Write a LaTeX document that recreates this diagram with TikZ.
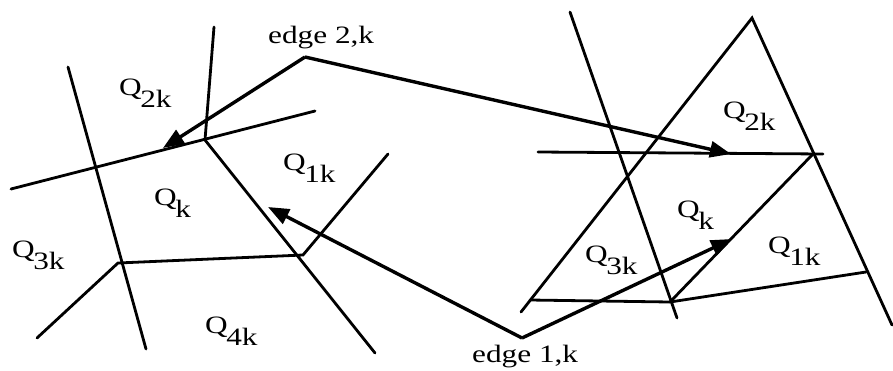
\documentclass[tikz,border=0pt]{standalone}
\usepackage{fontspec}
\newfontfamily\figfont[FakeStretch=1.25]{Liberation Serif}
\usetikzlibrary{arrows.meta}

\newcommand{\Qlab}[1]{Q\kern-0.06em\raisebox{-0.5em}{#1}}

\begin{document}
\begin{tikzpicture}[
    x=1pt, y=-1pt,
    meshline/.style={line width=2.8pt, line cap=round},
    edgeline/.style={line width=3.4pt, line join=miter},
    edgearrow/.style={edgeline, -{Triangle[length=21pt, width=16pt]}},
    qlabel/.style={anchor=base west, inner sep=0pt, font=\figfont\fontsize{25pt}{25pt}\selectfont},
    elabel/.style={anchor=base west, inner sep=0pt, font=\figfont\fontsize{25pt}{25pt}\selectfont}
]
\useasboundingbox (0,0) rectangle (893,370);

% Knoten, linkes Netz
\coordinate (la1) at (68,67);
\coordinate (la2) at (146,349);
\coordinate (lb1) at (214,27);
\coordinate (lb2) at (205,140);
\coordinate (lb3) at (375,353);
\coordinate (lc1) at (11,189);
\coordinate (lc2) at (315,111);
\coordinate (ld1) at (118,263);
\coordinate (ld2) at (303,255);
\coordinate (le1) at (37,338);
\coordinate (lf2) at (388,154);

% Knoten, rechtes Netz
\coordinate (rtop) at (752,18);
\coordinate (rleft) at (521,312);
\coordinate (rright) at (892,325);
\coordinate (rl1) at (570,12);
\coordinate (rl2) at (677,318);
\coordinate (rh1) at (538,152);
\coordinate (rh2) at (823,154);
\coordinate (rd1) at (812,155);
\coordinate (rbot) at (670,302);
\coordinate (rb1) at (530,300);
\coordinate (rb2) at (866,272);

% Knoten, Kanten
\coordinate (e2apex) at (305,57);
\coordinate (e2tipl) at (163,148);
\coordinate (e2tipr) at (731,154);
\coordinate (e1apex) at (522,338);
\coordinate (e1tipl) at (268,207);
\coordinate (e1tipr) at (732,239);

% Beschriftungen
\node[elabel] (edge2) at (268,43) {edge 2,k};
\node[elabel] (edge1) at (472,362) {edge 1,k};
\node[qlabel] (lq2) at (119,95) {\Qlab{2k}};
\node[qlabel] (lq1) at (283,170) {\Qlab{1k}};
\node[qlabel] (lq) at (154,205) {\Qlab{k}};
\node[qlabel] (lq3) at (12,257) {\Qlab{3k}};
\node[qlabel] (lq4) at (205,333) {\Qlab{4k}};
\node[qlabel] (rq2) at (723,118) {\Qlab{2k}};
\node[qlabel] (rq) at (677,217) {\Qlab{k}};
\node[qlabel] (rq3) at (585,262) {\Qlab{3k}};
\node[qlabel] (rq1) at (768,253) {\Qlab{1k}};

% Linien linkes Netz
\draw[meshline] (la1) -- (la2);
\draw[meshline] (lb1) -- (lb2) -- (lb3);
\draw[meshline] (lc1) -- (lc2);
\draw[meshline] (le1) -- (ld1) -- (ld2) -- (lf2);

% Linien rechtes Netz
\draw[meshline] (rleft) -- (rtop) -- (rright);
\draw[meshline] (rl1) -- (rl2);
\draw[meshline] (rh1) -- (rh2);
\draw[meshline] (rd1) -- (rbot);
\draw[meshline] (rb1) -- (rbot) -- (rb2);

% Kanten
\draw[edgearrow] (e2apex) -- (e2tipl);
\draw[edgearrow] (e2apex) -- (e2tipr);
\draw[edgearrow] (e1apex) -- (e1tipl);
\draw[edgearrow] (e1apex) -- (e1tipr);

\end{tikzpicture}
\end{document}
